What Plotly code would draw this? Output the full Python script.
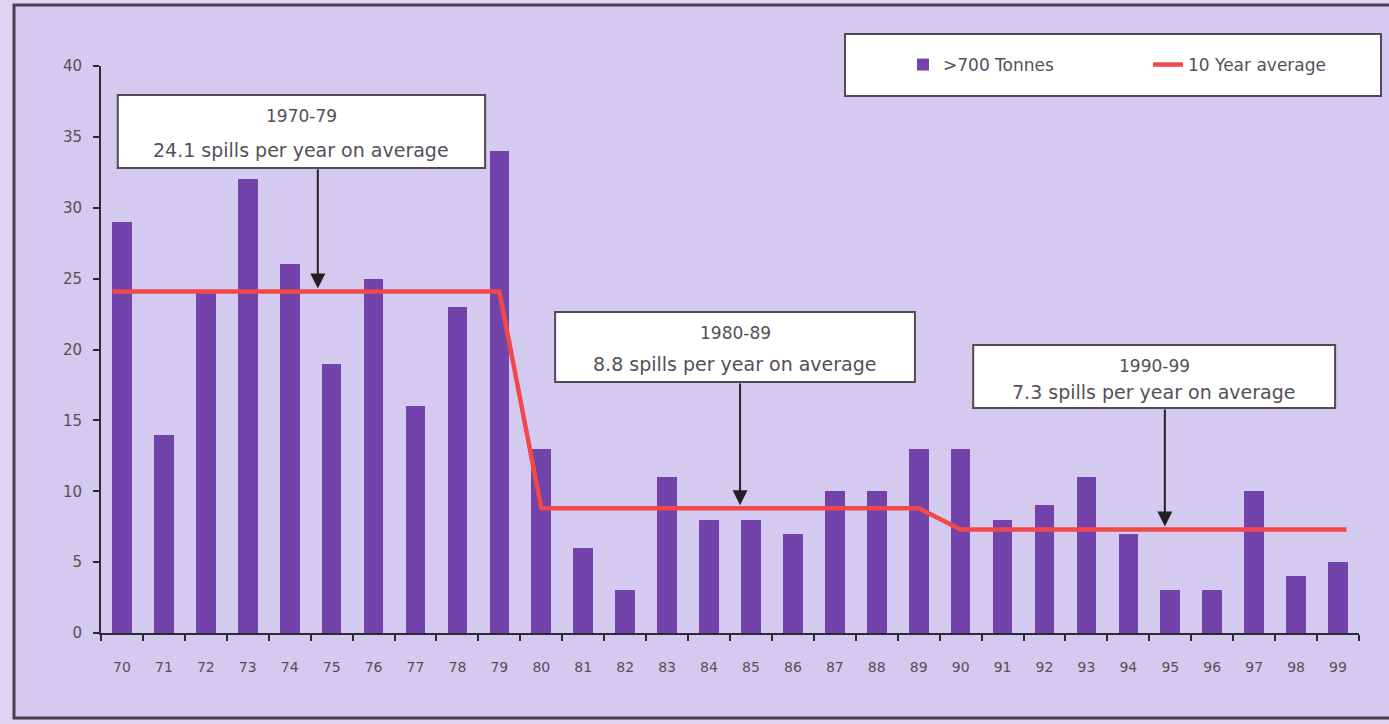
import plotly.graph_objects as go

# Oil spills over 700 tonnes per year, 1970-1999
years = list(range(70, 100))
year_labels = [str(y) for y in years]
spills = [29, 14, 24, 32, 26, 19, 25, 16, 23, 34,
          13, 6, 3, 11, 8, 8, 7, 10, 10, 13,
          13, 8, 9, 11, 7, 3, 3, 10, 4, 5]

# Decade averages
decades = ["1970-79", "1980-89", "1990-99"]
decade_avg = [24.1, 8.8, 7.3]
y_ticks = [0, 5, 10, 15, 20, 25, 30, 35, 40]

# Build the stepped average line: flat per decade, sloping between the
# last year of one decade and the first year of the next.
avg_x = [69.78, 79, 80, 89, 90, 99.2]
avg_y = [decade_avg[0], decade_avg[0], decade_avg[1], decade_avg[1],
         decade_avg[2], decade_avg[2]]

BG = "#d4c9ee"
BAR = "#7244ab"
RED = "#f24848"
AXIS = "#2e2a33"
TXT = "#555058"
FONT = "DejaVu Sans"

fig = go.Figure()
fig.add_trace(go.Bar(x=years, y=spills, width=0.47, name=">700 Tonnes",
                     marker=dict(color=BAR, line=dict(width=0))))
fig.add_trace(go.Scatter(x=avg_x, y=avg_y, mode="lines", name="10 Year average",
                         line=dict(color=RED, width=4.5)))

# Plot area in pixels: x 101..1359, y 66..633
L, R, T, B = 101, 1359, 66, 633
W, H = R - L, B - T


def px(x):
    return (x - L) / W


def py(y):
    return (B - y) / H


shapes = [
    # outer frame
    dict(type="rect", xref="paper", yref="paper",
         x0=px(14), x1=px(1395), y0=py(718), y1=py(5),
         line=dict(color="#4a4050", width=3), fillcolor=BG, layer="below"),
    # legend box
    dict(type="rect", xref="paper", yref="paper",
         x0=px(845), x1=px(1381), y0=py(96), y1=py(34),
         line=dict(color="#4f4a55", width=2), fillcolor="white", layer="above"),
]

# Callout boxes (data coordinates) and their texts
boxes = [
    dict(x0=69.9, x1=78.66, y0=32.8, y1=37.95, arrow_x=74.67, ty1=36.45, ty2=34.07,
         head=decades[0], val=decade_avg[0]),
    dict(x0=80.33, x1=88.91, y0=17.71, y1=22.65, arrow_x=84.74, ty1=21.16, ty2=18.98,
         head=decades[1], val=decade_avg[1]),
    dict(x0=90.30, x1=98.93, y0=15.87, y1=20.32, arrow_x=94.87, ty1=18.84, ty2=17.0,
         head=decades[2], val=decade_avg[2]),
]

annotations = []
for b in boxes:
    shapes.append(dict(type="rect", xref="x", yref="y",
                       x0=b["x0"], x1=b["x1"], y0=b["y0"], y1=b["y1"],
                       line=dict(color="#4f4a55", width=2), fillcolor="white",
                       layer="above"))
    xc = (b["x0"] + b["x1"]) / 2
    annotations.append(dict(x=xc, y=b["ty1"], xref="x", yref="y", text=b["head"],
                            showarrow=False, font=dict(family=FONT, size=17, color=TXT)))
    annotations.append(dict(x=xc, y=b["ty2"], xref="x", yref="y",
                            text=f"{b['val']} spills per year on average",
                            showarrow=False, font=dict(family=FONT, size=19, color=TXT)))
    annotations.append(dict(x=b["arrow_x"], y=b["val"], xref="x", yref="y",
                            ax=b["arrow_x"], ay=b["y0"], axref="x", ayref="y",
                            text="", showarrow=True, arrowhead=2, arrowsize=1.5,
                            arrowwidth=2, arrowcolor="#222", standoff=3))

fig.update_layout(
    width=1389, height=724, autosize=False,
    margin=dict(l=L, r=1389 - R, t=T, b=724 - B, autoexpand=False),
    paper_bgcolor="#ddd5f2", plot_bgcolor="rgba(0,0,0,0)",
    font=dict(family=FONT, color=TXT),
    bargap=0,
    showlegend=True,
    legend=dict(orientation="h", xref="paper", yref="paper",
                x=px(903), y=py(65), xanchor="left", yanchor="middle",
                bgcolor="rgba(0,0,0,0)", borderwidth=0,
                entrywidth=200, entrywidthmode="pixels",
                font=dict(family=FONT, size=17, color=TXT)),
    shapes=shapes,
    annotations=annotations,
    xaxis=dict(range=[69.5, 99.5], tickmode="array", tickvals=years, ticktext=year_labels,
               ticks="outside", ticklen=20, tickcolor="rgba(0,0,0,0)",
               showline=True, linecolor=AXIS, linewidth=2, showgrid=False, zeroline=False,
               tickfont=dict(family=FONT, size=14, color=TXT),
               minor=dict(tickmode="array", tickvals=[y - 0.5 for y in years] + [99.5],
                          ticks="outside", ticklen=6, tickwidth=2, tickcolor=AXIS,
                          showgrid=False)),
    yaxis=dict(range=[0, 40], tickmode="array", tickvals=y_ticks,
               ticks="outside", ticklen=6, tickwidth=2, tickcolor=AXIS,
               showline=True, linecolor=AXIS, linewidth=2, showgrid=False, zeroline=False,
               ticklabelstandoff=8,
               tickfont=dict(family=FONT, size=15, color=TXT)),
)

fig.write_html("out.html")
